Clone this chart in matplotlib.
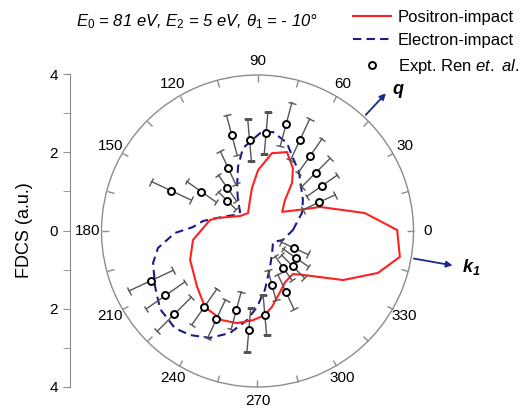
import numpy as np
import matplotlib
matplotlib.use('Agg')
import matplotlib.pyplot as plt
from matplotlib.lines import Line2D
from matplotlib.markers import MarkerStyle
from matplotlib.transforms import Affine2D

plt.rcParams['font.family'] = ['Liberation Sans', 'DejaVu Sans']
plt.rcParams['mathtext.fontset'] = 'custom'
plt.rcParams['mathtext.rm'] = 'Liberation Sans'
plt.rcParams['mathtext.it'] = 'Liberation Sans:italic'
plt.rcParams['mathtext.bf'] = 'Liberation Sans:italic:bold'

# positron-impact theory (angle in deg, FDCS)
pos_theta = [0.4, 9.5, 21, 27.4, 37.8, 48.4, 54.3, 60.6, 69.5, 79.5, 81.8, 89.5, 97.3, 103.6,
             117.8, 139.4, 162.2, 167, 187.9, 203.2, 222.8, 235.4, 248.3, 257.4, 267.1,
             275.1, 280.8, 290.2, 298.3, 309.5, 316, 330.2, 340.8, 349.7, 360.4]
pos_fdcs = [3.58, 2.79, 1.72, 1.17, 0.80, 1.06, 1.52, 1.85, 2.16, 2.03, 1.89, 1.56, 1.11, 0.82,
            0.52, 0.59, 1.09, 1.25, 1.67, 1.88, 2.11, 2.37, 2.46, 2.42, 2.29,
            2.16, 1.98, 1.67, 1.49, 1.43, 1.62, 2.53, 3.27, 3.71, 3.58]

# electron-impact theory
ele_theta = [1.6, 15.2, 22, 34.3, 45.3, 54.9, 64.1, 71.5, 81.1, 88.5, 99.9, 106.9, 115, 122.2,
             132.6, 142, 153, 162.2, 169.6, 176.5, 181.4, 189.7, 197, 208.6, 218.7, 229.6, 237,
             246, 254.9, 263.3, 269.6, 277.2, 289.1, 303.4, 324.6, 340.6, 361.6]
ele_fdcs = [0.91, 1.08, 1.23, 1.41, 1.59, 1.85, 2.08, 2.38, 2.57, 2.51, 2.16, 1.72, 1.24, 0.94,
            0.66, 0.68, 0.85, 1.09, 1.42, 1.66, 2.12, 2.59, 2.80, 2.99, 3.20, 3.27, 3.18,
            3.00, 2.71, 2.30, 1.95, 1.52, 0.98, 0.68, 0.49, 0.69, 0.91]

# experiment (Ren et al.)
exp_theta = [25, 35, 45, 55, 65, 75, 85, 95, 105, 115, 125, 135, 145, 155,
             205, 215, 225, 235, 245, 255, 265, 275, 285, 295, 305, 315, 325, 335]
exp_fdcs = [1.74, 2.02, 2.12, 2.35, 2.58, 2.83, 2.52, 2.34, 2.54, 1.79, 1.35, 1.10, 1.76, 2.44,
            3.01, 2.88, 3.02, 2.37, 2.49, 2.11, 2.55, 2.16, 1.44, 1.72, 1.16, 1.28, 1.19, 1.04]
exp_err = [0.46, 0.48, 0.51, 0.54, 0.58, 0.58, 0.55, 0.53, 0.53, 0.46, 0.40, 0.32, 0.46, 0.56,
           0.62, 0.60, 0.62, 0.56, 0.55, 0.50, 0.56, 0.51, 0.40, 0.49, 0.37, 0.41, 0.40, 0.38]

theta_ticks = np.arange(0, 360, 30)
left_ticks = [-4, -2, 0, 2, 4]
left_labels = ['4', '2', '0', '2', '4']

W, H = 524, 412
fig = plt.figure(figsize=(W / 100, H / 100), dpi=100)

cx, cy, R = 257.5, 231, 156
ax = fig.add_axes([(cx - R) / W, 1 - (cy + R) / H, 2 * R / W, 2 * R / H], projection='polar')

ax.plot(np.deg2rad(ele_theta), ele_fdcs, color='#1a1a8c', lw=1.5, ls=(0, (4, 2.5)), zorder=3)
ax.plot(np.deg2rad(pos_theta), pos_fdcs, color='#ff2020', lw=1.5, zorder=3)

# radial error bars with caps perpendicular to the radius
for th, r, e in zip(exp_theta, exp_fdcs, exp_err):
    t = np.deg2rad(th)
    ax.plot([t, t], [r - e, r + e], color='#555555', lw=1, zorder=4)
    cap = MarkerStyle('_', transform=Affine2D().rotate_deg(th + 90))
    ax.plot([t, t], [r - e, r + e], ls='none', marker=cap, ms=6, mew=1,
            color='#555555', zorder=4)
ax.plot(np.deg2rad(exp_theta), exp_fdcs, ls='none', marker='o', ms=5, mfc='white',
        mec='black', mew=1.4, zorder=5)

ax.set_rlim(0, 4)
ax.set_yticks([])
ax.grid(False)
ax.spines['polar'].set_color('#8c8c8c')
ax.spines['polar'].set_linewidth(1)
ax.set_xticks(np.deg2rad(theta_ticks))
ax.set_xticklabels([str(t) for t in theta_ticks], fontsize=11)
ax.set_xticks(np.deg2rad(theta_ticks + 15), minor=True)
ax.xaxis.set_tick_params(which='both', tick1On=False, tick2On=True)
ax.tick_params(axis='x', which='both', direction='in', length=5, width=1,
               color='#8c8c8c', pad=3)

# q and k1 arrows
arrow = dict(arrowstyle='-|>', color='#1a2a8c', lw=1.3, mutation_scale=9)
ax.annotate('', xy=(np.deg2rad(47), 4.9), xytext=(np.deg2rad(47), 4.0),
            arrowprops=arrow, annotation_clip=False)
ax.annotate('', xy=(np.deg2rad(-10), 5.15), xytext=(np.deg2rad(-10), 4.0),
            arrowprops=arrow, annotation_clip=False)
ax.text(np.deg2rad(46), 4.98, r'$\mathbf{q}$', fontsize=13, ha='left', va='center')
ax.text(np.deg2rad(-10), 5.33, r'$\mathbf{k_1}$', fontsize=13, ha='left', va='center')

# linear FDCS axis on the left
axl = fig.add_axes([70 / W, 1 - 387 / H, 0.02, 313 / H])
axl.set_ylim(-4, 4)
axl.set_yticks(left_ticks)
axl.set_yticklabels(left_labels, fontsize=11)
axl.set_yticks([-3, -1, 1, 3], minor=True)
axl.set_xticks([])
for s in ['top', 'right', 'bottom']:
    axl.spines[s].set_visible(False)
axl.spines['left'].set_color('#8c8c8c')
axl.patch.set_visible(False)
axl.tick_params(axis='y', which='both', direction='out', length=5, color='#8c8c8c')
axl.set_ylabel('FDCS (a.u.)', fontsize=13, labelpad=12)

fig.text(197 / W, 1 - 22 / H, r'$E_0$ = 81 eV, $E_2$ = 5 eV, $\theta_1$ = - 10°',
         fontsize=12, style='italic', ha='center', va='center')

handles = [Line2D([], [], color='#ff2020', lw=1.5),
           Line2D([], [], color='#1a1a8c', lw=1.5, ls=(0, (4, 2.5))),
           Line2D([], [], ls='none', marker='o', ms=5, mfc='white', mec='black', mew=1.4)]
labels = ['Positron-impact', 'Electron-impact', r'Expt. Ren $\mathit{et.\ al.}$']
fig.legend(handles, labels, loc='upper left', bbox_to_anchor=(353 / W, 1 - 10 / H),
           frameon=False, fontsize=12, handlelength=2.3, handletextpad=0.4,
           borderpad=0, borderaxespad=0, labelspacing=0.5)

fig.savefig('out.png', dpi=100)
